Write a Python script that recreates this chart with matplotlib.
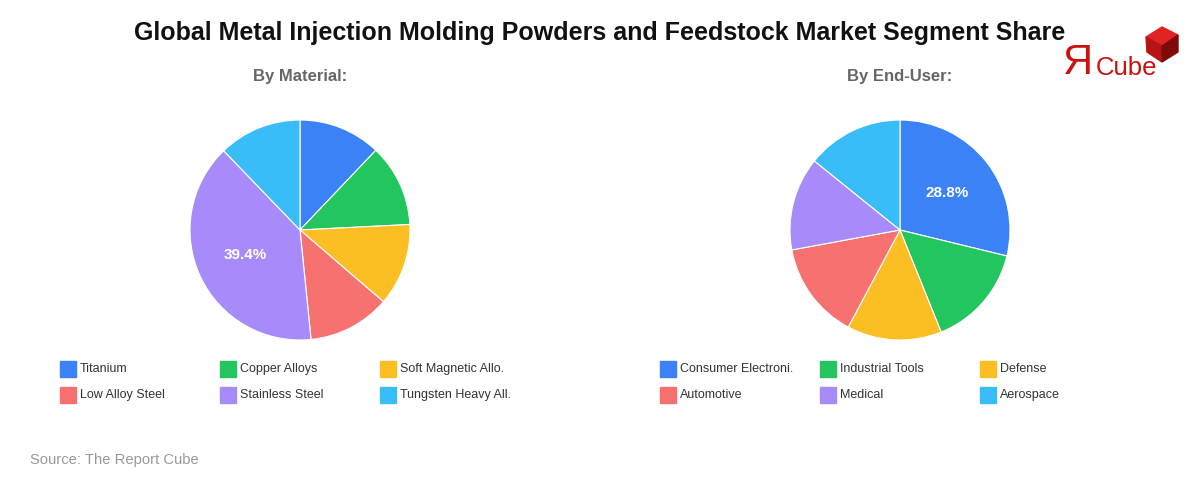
import matplotlib.pyplot as plt
from matplotlib.patches import Polygon, Rectangle

plt.rcParams['font.family'] = ['Liberation Sans', 'DejaVu Sans']

# data
material_labels = ["Titanium", "Copper Alloys", "Soft Magnetic Allo.",
                   "Low Alloy Steel", "Stainless Steel", "Tungsten Heavy All."]
material_share = [12.1, 12.1, 12.1, 12.1, 39.4, 12.2]

enduser_labels = ["Consumer Electroni.", "Industrial Tools", "Defense",
                  "Automotive", "Medical", "Aerospace"]
enduser_share = [28.8, 15.1, 13.9, 14.3, 13.7, 14.2]

colors = ["#3B82F6", "#22C55E", "#FBBF24", "#F87171", "#A78BFA", "#38BDF8"]

W, H = 1200, 480
fig = plt.figure(figsize=(W / 100, H / 100), dpi=100)
fig.patch.set_facecolor("white")

# overlay axes in pixel coordinates for text, legend and logo
bg = fig.add_axes([0, 0, 1, 1])
bg.set_xlim(0, W)
bg.set_ylim(H, 0)
bg.axis("off")

bg.text(600, 33, "Global Metal Injection Molding Powders and Feedstock Market Segment Share",
        ha="center", va="center", fontsize=18, fontweight="bold", color="#111111")


def draw_pie(cx, subtitle, labels, values):
    bg.text(cx, 77, subtitle, ha="center", va="center", fontsize=12,
            fontweight="bold", color="#666666")
    r = 110
    ax = fig.add_axes([(cx - r) / W, (H - 230 - r) / H, 2 * r / W, 2 * r / H])
    ax.pie(values, colors=colors, startangle=90, counterclock=False,
           wedgeprops=dict(edgecolor="white", linewidth=0.8),
           autopct=lambda p: f"{p:.1f}%" if p > 20 else "",
           pctdistance=0.55,
           textprops=dict(color="white", fontsize=11, fontweight="bold"))
    ax.set_xlim(-1, 1)
    ax.set_ylim(-1, 1)
    ax.set_aspect("equal")
    ax.axis("off")

    # legend, 3 columns x 2 rows
    x0 = cx - 240
    for i, lab in enumerate(labels):
        col, row = i % 3, i // 3
        x = x0 + col * 160
        y = 369 + row * 26
        bg.add_patch(Rectangle((x, y - 8), 16, 16, color=colors[i]))
        bg.text(x + 20, y, lab, ha="left", va="center", fontsize=9, color="#333333")


draw_pie(300, "By Material:", material_labels, material_share)
draw_pie(900, "By End-User:", enduser_labels, enduser_share)

bg.text(30, 460, "Source: The Report Cube", ha="left", va="center",
        fontsize=10.6, color="#999999")

# logo
bg.text(1062, 63, "Я", ha="left", va="center", fontsize=30, color="#CC1111")
bg.text(1096, 68, "Cube", ha="left", va="center", fontsize=18.5, color="#CC1111")
bg.add_patch(Polygon([(1146, 37), (1162, 27), (1178, 35), (1162, 46)], color="#E02424"))
bg.add_patch(Polygon([(1146, 37), (1162, 46), (1162, 62), (1147, 52)], color="#B81414"))
bg.add_patch(Polygon([(1162, 46), (1178, 35), (1178, 52), (1162, 62)], color="#7F0A0A"))

plt.savefig("out.png", dpi=100)
